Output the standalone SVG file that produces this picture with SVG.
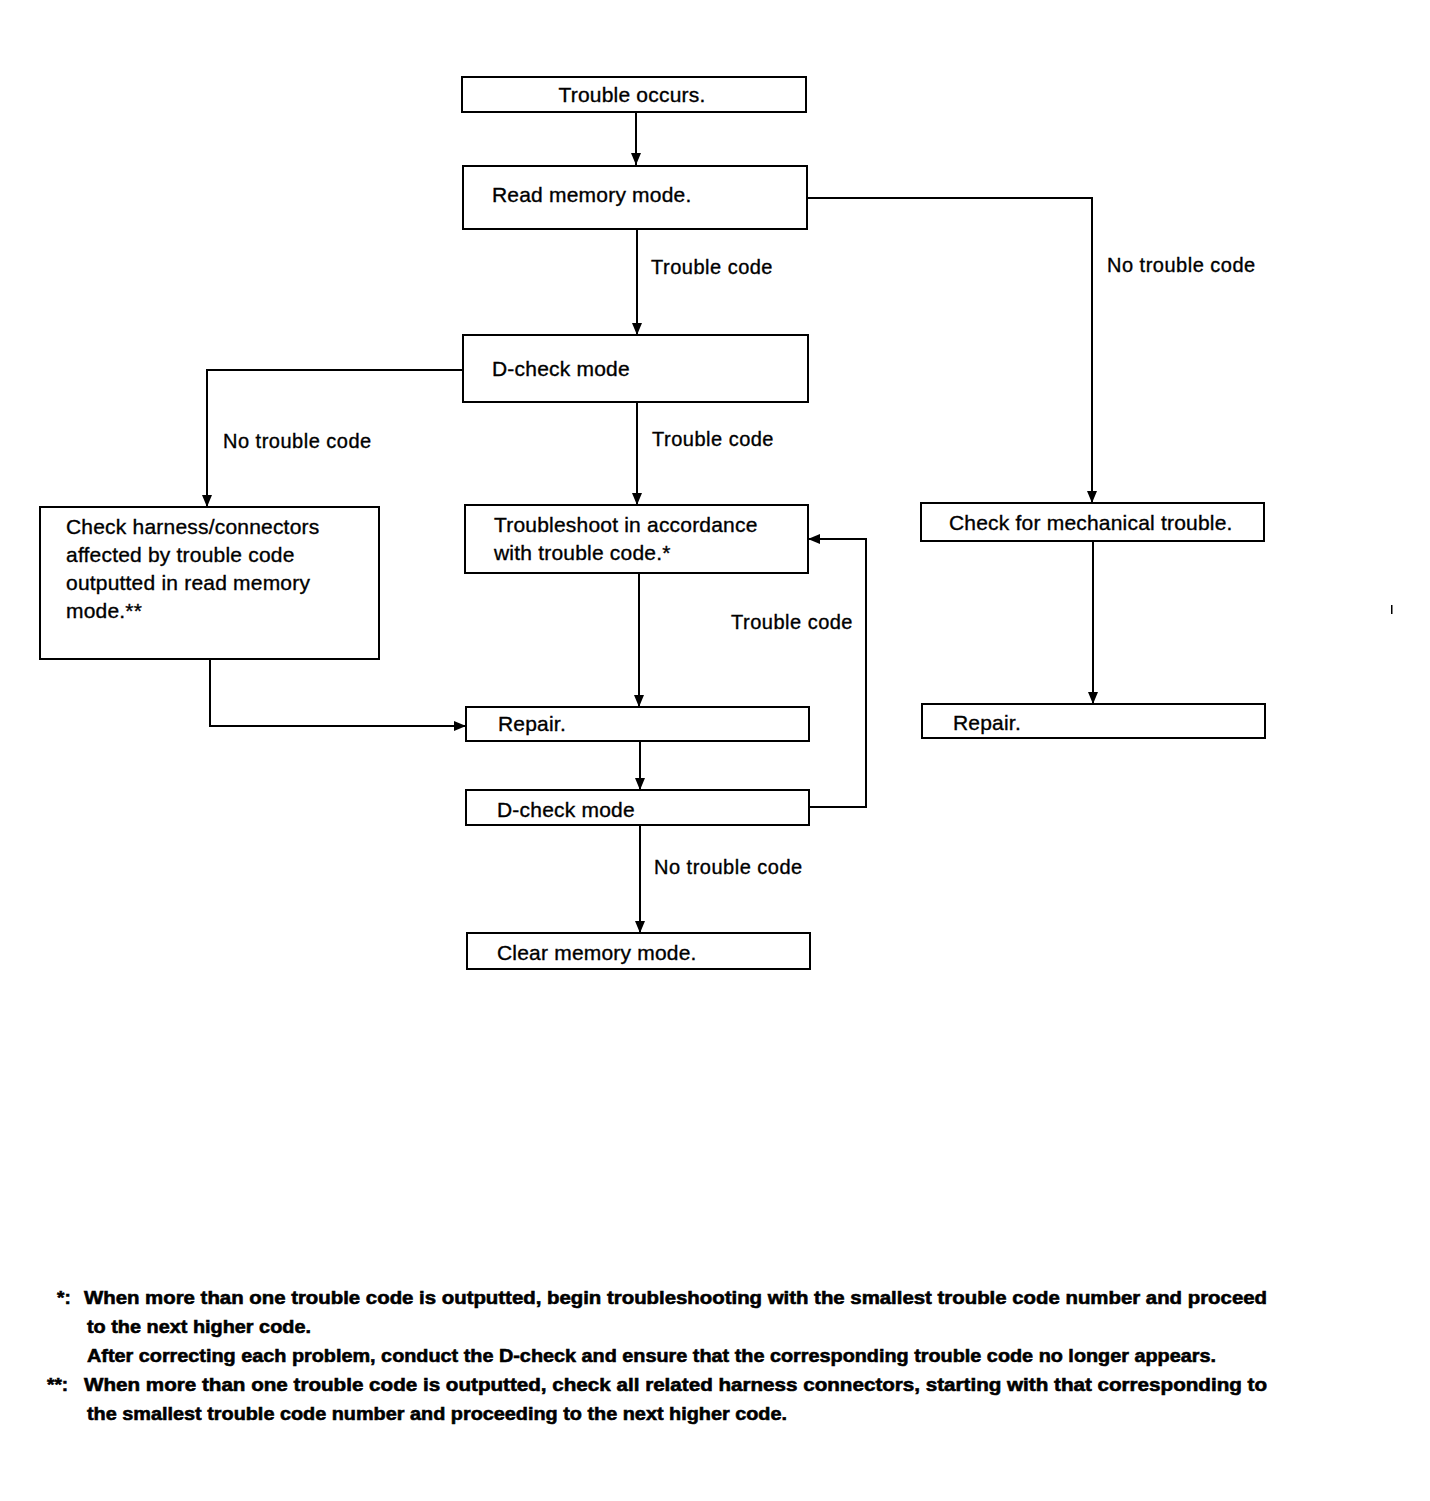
<svg xmlns="http://www.w3.org/2000/svg" width="1430" height="1501" viewBox="0 0 1430 1501">
<style>
.box{fill:#fff;stroke:#000;stroke-width:2}
.t{font-family:"Liberation Sans",Arial,sans-serif;font-size:21px;fill:#000;stroke:#000;stroke-width:0.35;letter-spacing:0.2px}
.lbl{font-family:"Liberation Sans",Arial,sans-serif;font-size:20px;fill:#000;stroke:#000;stroke-width:0.35;letter-spacing:0.5px}
.fn{font-family:"Liberation Sans",Arial,sans-serif;font-size:19px;font-weight:bold;fill:#000;stroke:#000;stroke-width:0.6}
.c{fill:none;stroke:#000;stroke-width:2}
</style>
<defs>
<marker id="ah" markerUnits="userSpaceOnUse" markerWidth="14" markerHeight="14" viewBox="0 0 14 14" refX="12" refY="7" orient="auto">
<path d="M0,2 L12,7 L0,12 Z" fill="#000"/>
</marker>
</defs>
<rect width="1430" height="1501" fill="#fff"/>
<g id="connectors">
<path class="c" d="M636,112 V165" marker-end="url(#ah)"/>
<path class="c" d="M807,198 H1092 V503" marker-end="url(#ah)"/>
<path class="c" d="M637,229 V335" marker-end="url(#ah)"/>
<path class="c" d="M463,370 H207 V507" marker-end="url(#ah)"/>
<path class="c" d="M637,403 V505" marker-end="url(#ah)"/>
<path class="c" d="M639,573 V707" marker-end="url(#ah)"/>
<path class="c" d="M210,658 V726 H466" marker-end="url(#ah)"/>
<path class="c" d="M640,741 V790" marker-end="url(#ah)"/>
<path class="c" d="M810,807 H866 V539 H808" marker-end="url(#ah)"/>
<path class="c" d="M640,824 V933" marker-end="url(#ah)"/>
<path class="c" d="M1093,541 V704" marker-end="url(#ah)"/>
<text class="lbl" x="651" y="274">Trouble code</text>
<text class="lbl" x="1107" y="272">No trouble code</text>
<text class="lbl" x="223" y="448">No trouble code</text>
<text class="lbl" x="652" y="446">Trouble code</text>
<text class="lbl" x="731" y="629">Trouble code</text>
<text class="lbl" x="654" y="874">No trouble code</text>
</g>
<g id="n1"><rect class="box" x="462" y="77" width="344" height="35"/><text class="t" x="632" y="102" text-anchor="middle">Trouble occurs.</text></g>
<g id="n2"><rect class="box" x="463" y="166" width="344" height="63"/><text class="t" x="492" y="202">Read memory mode.</text></g>
<g id="n3"><rect class="box" x="463" y="335" width="345" height="67"/><text class="t" x="492" y="376">D-check mode</text></g>
<g id="n4"><rect class="box" x="40" y="507" width="339" height="152"/>
<text class="t" x="66" y="534">Check harness/connectors</text>
<text class="t" x="66" y="562">affected by trouble code</text>
<text class="t" x="66" y="590">outputted in read memory</text>
<text class="t" x="66" y="618">mode.**</text></g>
<g id="n5"><rect class="box" x="465" y="505" width="343" height="68"/>
<text class="t" x="494" y="532">Troubleshoot in accordance</text>
<text class="t" x="494" y="560">with trouble code.*</text></g>
<g id="n6"><rect class="box" x="466" y="707" width="343" height="34"/><text class="t" x="498" y="731">Repair.</text></g>
<g id="n7"><rect class="box" x="466" y="790" width="343" height="35"/><text class="t" x="497" y="817">D-check mode</text></g>
<g id="n8"><rect class="box" x="467" y="933" width="343" height="36"/><text class="t" x="497" y="960">Clear memory mode.</text></g>
<g id="n9"><rect class="box" x="921" y="503" width="343" height="38"/><text class="t" x="949" y="530">Check for mechanical trouble.</text></g>
<g id="n10"><rect class="box" x="922" y="704" width="343" height="34"/><text class="t" x="953" y="730">Repair.</text></g>
<rect x="1391" y="605" width="1.5" height="9" fill="#000"/>
<g id="footnotes">
<text class="fn" x="57" y="1304">*:</text>
<text class="fn" x="84" y="1304" textLength="1183" lengthAdjust="spacingAndGlyphs">When more than one trouble code is outputted, begin troubleshooting with the smallest trouble code number and proceed</text>
<text class="fn" x="87" y="1333" textLength="224" lengthAdjust="spacingAndGlyphs">to the next higher code.</text>
<text class="fn" x="87" y="1362" textLength="1129" lengthAdjust="spacingAndGlyphs">After correcting each problem, conduct the D-check and ensure that the corresponding trouble code no longer appears.</text>
<text class="fn" x="47" y="1391">**:</text>
<text class="fn" x="84" y="1391" textLength="1183" lengthAdjust="spacingAndGlyphs">When more than one trouble code is outputted, check all related harness connectors, starting with that corresponding to</text>
<text class="fn" x="87" y="1420" textLength="700" lengthAdjust="spacingAndGlyphs">the smallest trouble code number and proceeding to the next higher code.</text>
</g>
</svg>
